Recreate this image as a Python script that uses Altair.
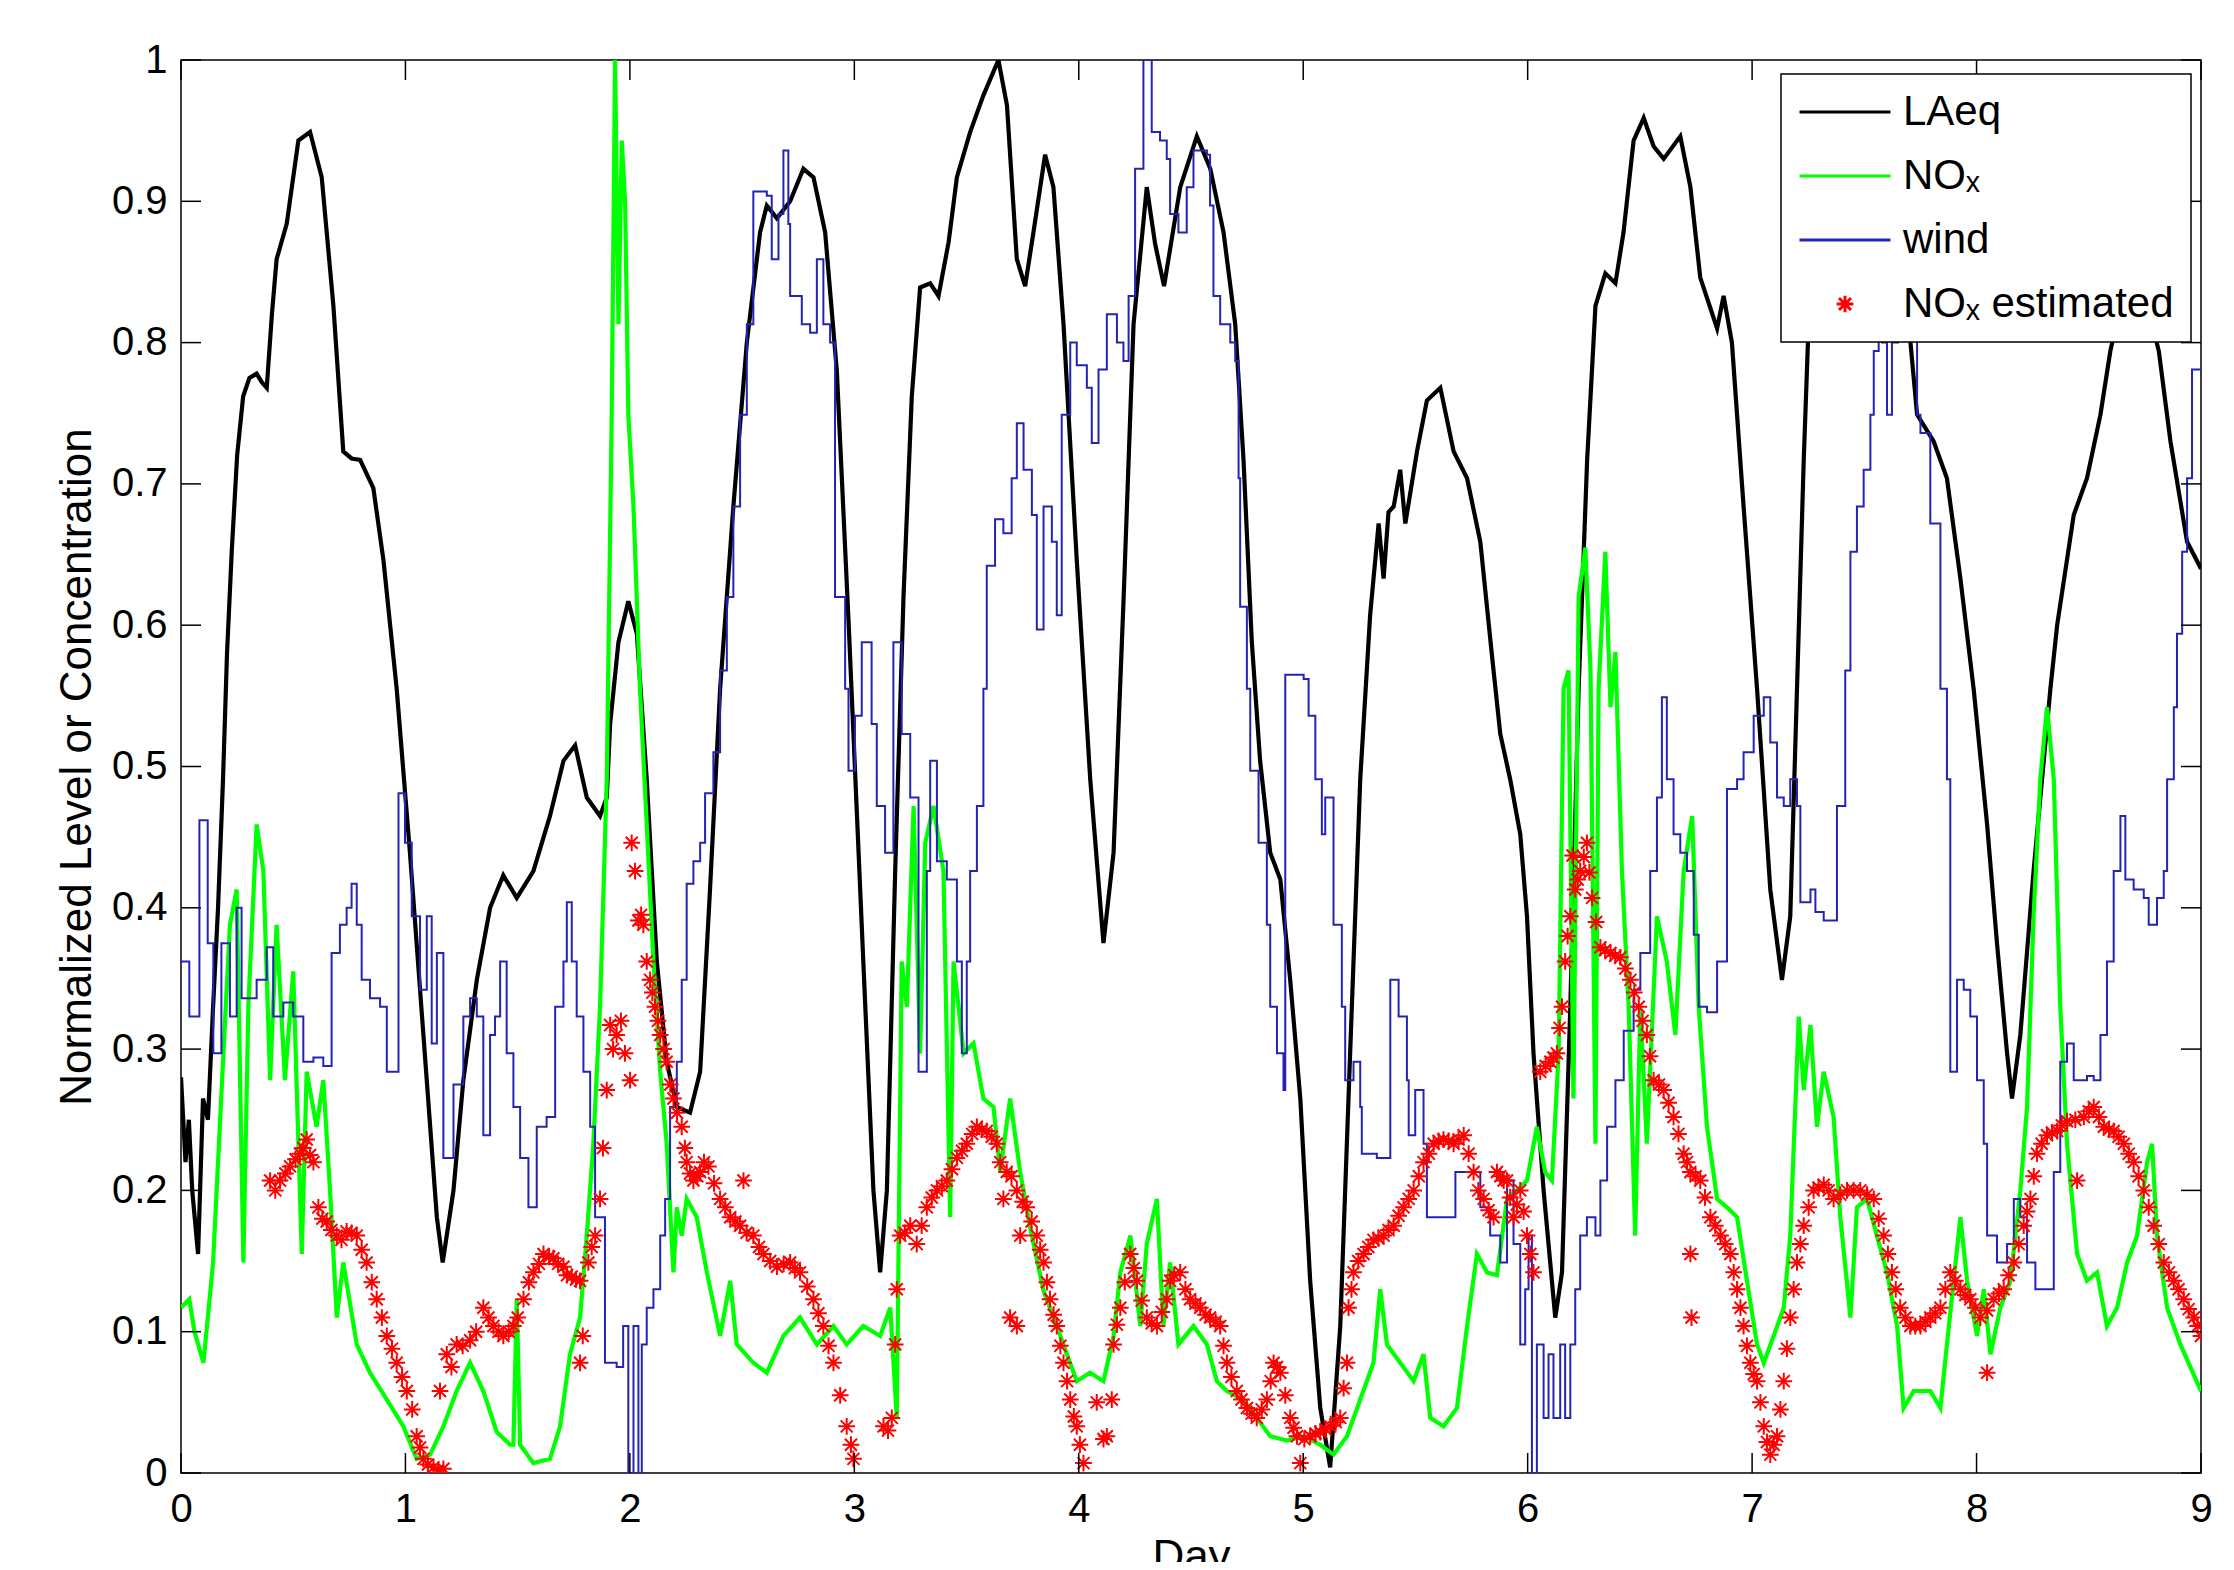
import altair as alt
import pandas as pd

# ---------------- data ----------------
laeq_day = [0.0, 0.02, 0.035, 0.05, 0.076, 0.098, 0.12, 0.143, 0.165, 0.187, 0.205, 0.226, 0.25, 0.277, 0.305,
            0.337, 0.36, 0.382, 0.405, 0.426, 0.471, 0.523, 0.575, 0.627, 0.679, 0.723, 0.76, 0.798, 0.857, 0.902,
            0.961, 1.02, 1.08, 1.14, 1.166, 1.214, 1.258, 1.318, 1.377, 1.436, 1.496, 1.57, 1.644, 1.704, 1.756,
            1.808, 1.867, 1.897, 1.912, 1.949, 1.993, 2.031, 2.075, 2.12, 2.164, 2.209, 2.268, 2.313, 2.357, 2.402,
            2.461, 2.521, 2.58, 2.61, 2.655, 2.714, 2.773, 2.818, 2.87, 2.922, 2.975, 3.04, 3.085, 3.115, 3.145,
            3.182, 3.219, 3.256, 3.293, 3.338, 3.375, 3.42, 3.457, 3.516, 3.575, 3.642, 3.68, 3.724, 3.761, 3.798,
            3.85, 3.887, 3.932, 3.991, 4.051, 4.11, 4.155, 4.2, 4.244, 4.303, 4.34, 4.38, 4.452, 4.526, 4.586,
            4.645, 4.697, 4.734, 4.771, 4.808, 4.853, 4.898, 4.942, 4.987, 5.031, 5.076, 5.12, 5.165, 5.209, 5.254,
            5.298, 5.336, 5.358, 5.38, 5.403, 5.432, 5.455, 5.507, 5.551, 5.611, 5.67, 5.73, 5.789, 5.84, 5.878,
            5.922, 5.967, 5.997, 6.026, 6.071, 6.123, 6.153, 6.19, 6.227, 6.265, 6.302, 6.346, 6.391, 6.427, 6.472,
            6.517, 6.561, 6.606, 6.68, 6.725, 6.769, 6.844, 6.873, 6.91, 6.962, 7.022, 7.081, 7.133, 7.17, 7.2,
            7.23, 7.259, 7.32, 7.42, 7.52, 7.62, 7.705, 7.735, 7.809, 7.868, 7.928, 7.987, 8.047, 8.091, 8.136,
            8.158, 8.195, 8.254, 8.329, 8.359, 8.433, 8.492, 8.552, 8.596, 8.66, 8.74, 8.812, 8.864, 8.938, 9.0]
laeq_val = [0.28, 0.22, 0.25, 0.2, 0.155, 0.265, 0.25, 0.33, 0.4, 0.49, 0.58, 0.652, 0.72, 0.762, 0.775,
            0.778, 0.772, 0.768, 0.82, 0.859, 0.884, 0.943, 0.949, 0.917, 0.826, 0.723, 0.718, 0.717, 0.697, 0.646,
            0.555, 0.439, 0.31, 0.181, 0.149, 0.2, 0.278, 0.349, 0.4, 0.423, 0.407, 0.426, 0.465, 0.504, 0.515,
            0.478, 0.465, 0.478, 0.53, 0.588, 0.617, 0.594, 0.491, 0.362, 0.291, 0.259, 0.255, 0.284, 0.413, 0.555,
            0.684, 0.8, 0.878, 0.897, 0.888, 0.9, 0.923, 0.917, 0.878, 0.78, 0.6, 0.362, 0.2, 0.142, 0.2,
            0.426, 0.62, 0.762, 0.839, 0.842, 0.833, 0.871, 0.917, 0.949, 0.975, 1.0, 0.968, 0.859, 0.84, 0.878,
            0.933, 0.91, 0.813, 0.646, 0.491, 0.375, 0.439, 0.62, 0.813, 0.91, 0.87, 0.84, 0.91, 0.946, 0.923,
            0.878, 0.813, 0.717, 0.588, 0.504, 0.439, 0.42, 0.349, 0.265, 0.136, 0.046, 0.004, 0.104, 0.297, 0.491,
            0.607, 0.672, 0.633, 0.68, 0.684, 0.71, 0.672, 0.723, 0.759, 0.768, 0.723, 0.704, 0.659, 0.58, 0.523,
            0.491, 0.452, 0.394, 0.297, 0.2, 0.11, 0.142, 0.33, 0.555, 0.717, 0.826, 0.849, 0.842, 0.878, 0.943,
            0.959, 0.939, 0.93, 0.946, 0.91, 0.846, 0.81, 0.833, 0.8, 0.684, 0.555, 0.413, 0.349, 0.394, 0.555,
            0.717, 0.846, 0.92, 0.95, 0.93, 0.87, 0.801, 0.749, 0.73, 0.704, 0.633, 0.555, 0.459, 0.375, 0.297,
            0.265, 0.31, 0.426, 0.555, 0.6, 0.678, 0.704, 0.749, 0.794, 0.84, 0.84, 0.794, 0.73, 0.659, 0.64]

nox_day = [0.0, 0.037, 0.06, 0.1, 0.143, 0.189, 0.218, 0.248, 0.278, 0.3, 0.337, 0.367, 0.397, 0.426, 0.463,
           0.5, 0.538, 0.56, 0.604, 0.634, 0.664, 0.694, 0.723, 0.783, 0.842, 0.917, 0.991, 1.05, 1.11, 1.169,
           1.228, 1.288, 1.347, 1.407, 1.466, 1.481, 1.496, 1.511, 1.57, 1.644, 1.689, 1.733, 1.778, 1.808, 1.837,
           1.867, 1.897, 1.919, 1.934, 1.949, 1.964, 1.979, 1.993, 2.016, 2.045, 2.075, 2.105, 2.135, 2.164, 2.194,
           2.209, 2.231, 2.253, 2.298, 2.343, 2.402, 2.447, 2.476, 2.55, 2.61, 2.684, 2.758, 2.833, 2.907, 2.966,
           3.04, 3.115, 3.16, 3.189, 3.211, 3.234, 3.264, 3.293, 3.316, 3.353, 3.397, 3.427, 3.442, 3.487, 3.531,
           3.575, 3.62, 3.65, 3.694, 3.739, 3.783, 3.843, 3.902, 3.947, 3.991, 4.05, 4.11, 4.155, 4.185, 4.23,
           4.274, 4.303, 4.348, 4.377, 4.407, 4.444, 4.511, 4.571, 4.615, 4.66, 4.734, 4.793, 4.853, 4.927, 5.002,
           5.076, 5.135, 5.195, 5.254, 5.313, 5.343, 5.373, 5.432, 5.492, 5.536, 5.566, 5.625, 5.685, 5.73, 5.774,
           5.819, 5.863, 5.908, 5.952, 5.997, 6.041, 6.078, 6.108, 6.138, 6.16, 6.182, 6.204, 6.227, 6.257, 6.28,
           6.302, 6.316, 6.346, 6.369, 6.391, 6.42, 6.45, 6.479, 6.502, 6.531, 6.576, 6.62, 6.658, 6.695, 6.733,
           6.762, 6.799, 6.844, 6.888, 6.933, 6.977, 7.022, 7.052, 7.096, 7.141, 7.17, 7.208, 7.23, 7.26, 7.289,
           7.319, 7.363, 7.393, 7.438, 7.467, 7.512, 7.556, 7.601, 7.646, 7.675, 7.72, 7.794, 7.839, 7.868, 7.928,
           7.958, 8.002, 8.032, 8.062, 8.106, 8.151, 8.195, 8.225, 8.254, 8.284, 8.314, 8.344, 8.373, 8.403, 8.448,
           8.492, 8.537, 8.581, 8.626, 8.671, 8.715, 8.76, 8.782, 8.804, 8.849, 8.908, 9.0]
nox_val = [0.117, 0.123, 0.1, 0.078, 0.149, 0.297, 0.388, 0.413, 0.149, 0.33, 0.459, 0.426, 0.278, 0.388, 0.278,
           0.355, 0.155, 0.284, 0.245, 0.278, 0.2, 0.11, 0.149, 0.091, 0.071, 0.052, 0.033, 0.01, 0.013, 0.033,
           0.058, 0.078, 0.058, 0.029, 0.02, 0.02, 0.123, 0.02, 0.007, 0.01, 0.033, 0.084, 0.11, 0.168, 0.233,
           0.33, 0.491, 0.749, 1.0, 0.813, 0.943, 0.898, 0.749, 0.684, 0.555, 0.459, 0.362, 0.284, 0.233, 0.142,
           0.188, 0.168, 0.194, 0.181, 0.142, 0.097, 0.136, 0.091, 0.078, 0.071, 0.097, 0.11, 0.091, 0.104, 0.091,
           0.104, 0.097, 0.117, 0.039, 0.362, 0.33, 0.472, 0.297, 0.446, 0.472, 0.426, 0.181, 0.362, 0.297, 0.304,
           0.265, 0.259, 0.213, 0.265, 0.213, 0.174, 0.129, 0.104, 0.084, 0.065, 0.071, 0.065, 0.097, 0.142, 0.168,
           0.104, 0.162, 0.194, 0.104, 0.149, 0.091, 0.104, 0.091, 0.065, 0.058, 0.052, 0.039, 0.026, 0.023, 0.026,
           0.02, 0.013, 0.026, 0.052, 0.078, 0.13, 0.091, 0.078, 0.065, 0.084, 0.039, 0.033, 0.046, 0.104, 0.155,
           0.142, 0.14, 0.194, 0.2, 0.207, 0.245, 0.213, 0.207, 0.297, 0.555, 0.568, 0.265, 0.62, 0.655, 0.568,
           0.233, 0.555, 0.652, 0.542, 0.581, 0.426, 0.33, 0.168, 0.33, 0.233, 0.394, 0.362, 0.31, 0.426, 0.465,
           0.33, 0.245, 0.194, 0.188, 0.181, 0.136, 0.091, 0.078, 0.097, 0.117, 0.168, 0.323, 0.271, 0.317, 0.245,
           0.284, 0.252, 0.181, 0.11, 0.188, 0.194, 0.168, 0.142, 0.104, 0.046, 0.058, 0.058, 0.046, 0.091, 0.181,
           0.136, 0.097, 0.13, 0.084, 0.117, 0.136, 0.2, 0.259, 0.394, 0.491, 0.542, 0.491, 0.33, 0.233, 0.155,
           0.136, 0.142, 0.104, 0.117, 0.149, 0.168, 0.22, 0.233, 0.168, 0.117, 0.091, 0.058]

wind_day = [0.0, 0.037, 0.082, 0.119, 0.144, 0.18, 0.218, 0.248, 0.27, 0.337, 0.382, 0.411, 0.456, 0.5, 0.545,
            0.59, 0.634, 0.671, 0.708, 0.738, 0.76, 0.783, 0.805, 0.842, 0.887, 0.917, 0.969, 0.998, 1.028, 1.065,
            1.095, 1.117, 1.14, 1.169, 1.214, 1.258, 1.288, 1.318, 1.347, 1.377, 1.399, 1.422, 1.451, 1.481, 1.511,
            1.548, 1.585, 1.629, 1.667, 1.704, 1.719, 1.741, 1.763, 1.793, 1.823, 1.845, 1.889, 1.941, 1.97, 1.993,
            2.016, 2.038, 2.053, 2.075, 2.105, 2.135, 2.157, 2.179, 2.209, 2.231, 2.253, 2.283, 2.313, 2.335, 2.372,
            2.402, 2.432, 2.461, 2.491, 2.521, 2.55, 2.61, 2.632, 2.662, 2.684, 2.706, 2.714, 2.766, 2.803, 2.833,
            2.862, 2.892, 2.914, 2.959, 2.974, 3.003, 3.033, 3.077, 3.1, 3.137, 3.174, 3.211, 3.249, 3.286, 3.323,
            3.338, 3.368, 3.412, 3.457, 3.479, 3.501, 3.516, 3.546, 3.575, 3.59, 3.627, 3.664, 3.701, 3.724, 3.754,
            3.791, 3.813, 3.843, 3.88, 3.902, 3.924, 3.962, 3.991, 4.036, 4.058, 4.088, 4.125, 4.17, 4.199, 4.222,
            4.251, 4.288, 4.325, 4.362, 4.392, 4.407, 4.444, 4.481, 4.511, 4.571, 4.585, 4.6, 4.63, 4.675, 4.697,
            4.712, 4.719, 4.749, 4.764, 4.801, 4.838, 4.853, 4.883, 4.912, 4.92, 5.002, 5.024, 5.054, 5.083, 5.098,
            5.135, 5.172, 5.187, 5.224, 5.254, 5.261, 5.328, 5.388, 5.425, 5.462, 5.47, 5.499, 5.536, 5.551, 5.678,
            5.789, 5.833, 5.878, 5.908, 5.937, 5.967, 5.989, 6.004, 6.019, 6.041, 6.071, 6.093, 6.115, 6.145, 6.167,
            6.19, 6.212, 6.234, 6.264, 6.302, 6.324, 6.354, 6.391, 6.428, 6.472, 6.502, 6.546, 6.576, 6.598, 6.62,
            6.65, 6.68, 6.71, 6.74, 6.762, 6.799, 6.844, 6.888, 6.933, 6.962, 7.007, 7.052, 7.081, 7.111, 7.141,
            7.17, 7.2, 7.215, 7.26, 7.282, 7.319, 7.378, 7.415, 7.438, 7.467, 7.497, 7.527, 7.542, 7.564, 7.579,
            7.601, 7.623, 7.65, 7.7, 7.735, 7.75, 7.794, 7.839, 7.868, 7.883, 7.913, 7.943, 7.972, 8.002, 8.032,
            8.047, 8.091, 8.136, 8.166, 8.195, 8.225, 8.262, 8.344, 8.373, 8.403, 8.433, 8.492, 8.522, 8.552, 8.581,
            8.611, 8.641, 8.663, 8.7, 8.745, 8.767, 8.804, 8.834, 8.849, 8.879, 8.893, 8.916, 8.938, 8.96, 9.0]
wind_val = [0.362, 0.323, 0.462, 0.375, 0.297, 0.375, 0.323, 0.4, 0.336, 0.349, 0.372, 0.323, 0.333, 0.323, 0.291,
            0.294, 0.288, 0.368, 0.388, 0.4, 0.417, 0.388, 0.349, 0.336, 0.33, 0.284, 0.481, 0.446, 0.394, 0.342,
            0.394, 0.304, 0.368, 0.223, 0.275, 0.323, 0.336, 0.323, 0.239, 0.31, 0.323, 0.362, 0.297, 0.259, 0.223,
            0.188, 0.245, 0.252, 0.33, 0.362, 0.404, 0.362, 0.323, 0.284, 0.245, 0.181, 0.078, 0.075, 0.104, 0.0,
            0.104, 0.0, 0.091, 0.117, 0.13, 0.168, 0.194, 0.259, 0.291, 0.349, 0.417, 0.433, 0.446, 0.481, 0.51,
            0.568, 0.62, 0.684, 0.749, 0.813, 0.907, 0.904, 0.859, 0.891, 0.936, 0.884, 0.833, 0.813, 0.807, 0.859,
            0.813, 0.8, 0.62, 0.555, 0.497, 0.536, 0.588, 0.53, 0.472, 0.439, 0.588, 0.523, 0.478, 0.284, 0.426,
            0.504, 0.433, 0.42, 0.362, 0.297, 0.362, 0.426, 0.472, 0.555, 0.642, 0.675, 0.665, 0.704, 0.743, 0.71,
            0.678, 0.597, 0.684, 0.659, 0.607, 0.749, 0.8, 0.784, 0.768, 0.729, 0.781, 0.82, 0.8, 0.787, 0.833,
            0.923, 1.0, 0.949, 0.943, 0.93, 0.891, 0.878, 0.91, 0.936, 0.933, 0.897, 0.833, 0.813, 0.8, 0.787,
            0.704, 0.613, 0.555, 0.497, 0.446, 0.388, 0.33, 0.297, 0.271, 0.565, 0.562, 0.536, 0.491, 0.452, 0.478,
            0.388, 0.33, 0.278, 0.291, 0.259, 0.226, 0.223, 0.349, 0.323, 0.278, 0.239, 0.271, 0.233, 0.181, 0.213,
            0.188, 0.168, 0.149, 0.207, 0.162, 0.091, 0.13, 0.168, 0.0, 0.091, 0.039, 0.084, 0.039, 0.091, 0.039,
            0.091, 0.13, 0.168, 0.181, 0.168, 0.207, 0.245, 0.278, 0.313, 0.342, 0.368, 0.426, 0.478, 0.549, 0.491,
            0.452, 0.439, 0.426, 0.381, 0.33, 0.326, 0.362, 0.484, 0.491, 0.51, 0.536, 0.549, 0.517, 0.478, 0.472,
            0.491, 0.472, 0.404, 0.413, 0.397, 0.391, 0.472, 0.568, 0.652, 0.684, 0.71, 0.749, 0.794, 0.845, 0.8,
            0.749, 0.8, 0.86, 0.82, 0.749, 0.736, 0.672, 0.555, 0.491, 0.284, 0.349, 0.342, 0.323, 0.278, 0.233,
            0.168, 0.149, 0.162, 0.194, 0.181, 0.149, 0.13, 0.213, 0.291, 0.304, 0.278, 0.281, 0.278, 0.31, 0.362,
            0.426, 0.465, 0.42, 0.413, 0.407, 0.388, 0.407, 0.426, 0.491, 0.542, 0.594, 0.652, 0.704, 0.781, 0.781]

est_day = [0.397, 0.42, 0.441, 0.465, 0.486, 0.51, 0.53, 0.545, 0.56, 0.575, 0.59, 0.612, 0.63, 0.649, 0.67,
           0.694, 0.715, 0.738, 0.76, 0.783, 0.805, 0.827, 0.85, 0.872, 0.895, 0.917, 0.94, 0.961, 0.985, 1.006,
           1.03, 1.05, 1.065, 1.08, 1.1, 1.125, 1.145, 1.154, 1.169, 1.184, 1.205, 1.228, 1.255, 1.288, 1.315,
           1.347, 1.37, 1.392, 1.415, 1.436, 1.46, 1.481, 1.5, 1.526, 1.55, 1.57, 1.595, 1.615, 1.64, 1.659,
           1.68, 1.704, 1.72, 1.741, 1.76, 1.778, 1.778, 1.79, 1.815, 1.83, 1.845, 1.867, 1.88, 1.897, 1.912,
           1.925, 1.941, 1.96, 1.978, 2.001, 2.008, 2.023, 2.038, 2.05, 2.06, 2.075, 2.09, 2.1, 2.112, 2.125,
           2.135, 2.15, 2.164, 2.18, 2.194, 2.21, 2.231, 2.245, 2.253, 2.268, 2.283, 2.3, 2.313, 2.33, 2.35,
           2.375, 2.402, 2.425, 2.447, 2.47, 2.491, 2.506, 2.52, 2.55, 2.575, 2.595, 2.625, 2.655, 2.685, 2.714,
           2.735, 2.758, 2.79, 2.818, 2.84, 2.862, 2.885, 2.907, 2.937, 2.966, 2.985, 2.996, 3.13, 3.15, 3.167,
           3.182, 3.189, 3.204, 3.225, 3.249, 3.278, 3.3, 3.323, 3.345, 3.368, 3.39, 3.412, 3.435, 3.457, 3.48,
           3.501, 3.525, 3.546, 3.568, 3.59, 3.612, 3.635, 3.65, 3.664, 3.679, 3.694, 3.7, 3.724, 3.724, 3.739,
           3.75, 3.768, 3.79, 3.813, 3.828, 3.843, 3.858, 3.872, 3.888, 3.902, 3.918, 3.932, 3.948, 3.962, 3.978,
           3.991, 4.005, 4.021, 4.08, 4.11, 4.125, 4.147, 4.155, 4.17, 4.185, 4.205, 4.229, 4.245, 4.259, 4.28,
           4.303, 4.325, 4.348, 4.37, 4.392, 4.407, 4.425, 4.452, 4.475, 4.496, 4.52, 4.541, 4.565, 4.585, 4.61,
           4.63, 4.645, 4.66, 4.68, 4.704, 4.725, 4.749, 4.77, 4.793, 4.815, 4.838, 4.855, 4.868, 4.883, 4.898,
           4.92, 4.942, 4.957, 4.972, 4.987, 5.005, 5.031, 5.055, 5.076, 5.1, 5.12, 5.145, 5.165, 5.18, 5.195,
           5.202, 5.215, 5.224, 5.245, 5.269, 5.29, 5.313, 5.335, 5.358, 5.38, 5.403, 5.425, 5.447, 5.47, 5.492,
           5.515, 5.536, 5.56, 5.581, 5.603, 5.625, 5.648, 5.67, 5.692, 5.715, 5.737, 5.759, 5.78, 5.804, 5.826,
           5.848, 5.863, 5.878, 5.893, 5.908, 5.922, 5.937, 5.952, 5.967, 5.982, 5.997, 6.012, 6.026, 6.056, 6.08,
           6.101, 6.115, 6.13, 6.142, 6.153, 6.167, 6.178, 6.19, 6.2, 6.212, 6.223, 6.234, 6.25, 6.264, 6.275,
           6.287, 6.305, 6.324, 6.345, 6.369, 6.39, 6.413, 6.435, 6.458, 6.475, 6.495, 6.512, 6.531, 6.545, 6.561,
           6.585, 6.606, 6.628, 6.65, 6.672, 6.695, 6.71, 6.725, 6.725, 6.73, 6.748, 6.769, 6.79, 6.814, 6.836,
           6.859, 6.88, 6.903, 6.918, 6.933, 6.948, 6.962, 6.977, 6.992, 7.007, 7.022, 7.037, 7.052, 7.066, 7.081,
           7.096, 7.111, 7.126, 7.141, 7.155, 7.17, 7.185, 7.2, 7.215, 7.23, 7.252, 7.274, 7.296, 7.319, 7.341,
           7.363, 7.393, 7.423, 7.452, 7.482, 7.512, 7.542, 7.564, 7.586, 7.605, 7.623, 7.64, 7.66, 7.683, 7.705,
           7.727, 7.75, 7.772, 7.794, 7.816, 7.839, 7.861, 7.883, 7.905, 7.928, 7.95, 7.972, 7.995, 8.017, 8.047,
           8.047, 8.076, 8.1, 8.121, 8.143, 8.166, 8.188, 8.21, 8.225, 8.24, 8.255, 8.269, 8.29, 8.314, 8.336,
           8.359, 8.38, 8.403, 8.44, 8.448, 8.478, 8.5, 8.522, 8.545, 8.567, 8.59, 8.611, 8.633, 8.656, 8.678,
           8.7, 8.722, 8.745, 8.767, 8.789, 8.812, 8.834, 8.857, 8.879, 8.9, 8.923, 8.945, 8.968, 8.985, 9.0]
est_val = [0.207, 0.2, 0.207, 0.212, 0.217, 0.222, 0.226, 0.23, 0.236, 0.225, 0.22, 0.188, 0.18, 0.178, 0.172,
           0.168, 0.165, 0.171, 0.17, 0.168, 0.158, 0.149, 0.135, 0.123, 0.11, 0.097, 0.088, 0.078, 0.068, 0.058,
           0.045, 0.026, 0.018, 0.01, 0.006, 0.004, 0.002, 0.058, 0.003, 0.084, 0.075, 0.091, 0.09, 0.094, 0.1,
           0.117, 0.11, 0.104, 0.1, 0.097, 0.1, 0.104, 0.11, 0.123, 0.135, 0.142, 0.148, 0.155, 0.153, 0.152,
           0.148, 0.146, 0.14, 0.139, 0.137, 0.136, 0.078, 0.097, 0.149, 0.16, 0.168, 0.194, 0.23, 0.271, 0.317,
           0.3, 0.31, 0.32, 0.297, 0.278, 0.446, 0.426, 0.391, 0.395, 0.388, 0.362, 0.349, 0.34, 0.33, 0.32,
           0.31, 0.3, 0.291, 0.275, 0.265, 0.255, 0.245, 0.23, 0.22, 0.212, 0.207, 0.21, 0.213, 0.22, 0.217,
           0.205, 0.194, 0.188, 0.181, 0.178, 0.175, 0.207, 0.17, 0.168, 0.16, 0.155, 0.15, 0.146, 0.148, 0.149,
           0.145, 0.142, 0.132, 0.123, 0.113, 0.104, 0.09, 0.078, 0.055, 0.033, 0.02, 0.01, 0.033, 0.03, 0.039,
           0.091, 0.13, 0.168, 0.17, 0.175, 0.162, 0.175, 0.188, 0.195, 0.2, 0.203, 0.207, 0.215, 0.223, 0.228,
           0.233, 0.24, 0.245, 0.243, 0.242, 0.238, 0.233, 0.22, 0.194, 0.213, 0.11, 0.21, 0.2, 0.104, 0.168,
           0.192, 0.188, 0.178, 0.168, 0.158, 0.149, 0.135, 0.123, 0.112, 0.104, 0.09, 0.078, 0.065, 0.052, 0.04,
           0.033, 0.02, 0.007, 0.05, 0.024, 0.026, 0.052, 0.091, 0.105, 0.117, 0.135, 0.155, 0.145, 0.136, 0.122,
           0.11, 0.106, 0.104, 0.114, 0.123, 0.136, 0.14, 0.142, 0.13, 0.123, 0.12, 0.117, 0.112, 0.11, 0.107,
           0.104, 0.09, 0.078, 0.068, 0.058, 0.052, 0.046, 0.042, 0.039, 0.045, 0.052, 0.065, 0.078, 0.075, 0.071,
           0.055, 0.039, 0.032, 0.026, 0.007, 0.024, 0.026, 0.028, 0.029, 0.031, 0.033, 0.036, 0.039, 0.06, 0.078,
           0.117, 0.13, 0.142, 0.15, 0.155, 0.16, 0.165, 0.166, 0.168, 0.172, 0.175, 0.182, 0.188, 0.194, 0.2,
           0.21, 0.22, 0.226, 0.233, 0.235, 0.236, 0.235, 0.233, 0.236, 0.239, 0.226, 0.213, 0.2, 0.194, 0.186,
           0.181, 0.213, 0.21, 0.207, 0.207, 0.195, 0.181, 0.19, 0.2, 0.185, 0.168, 0.155, 0.142, 0.284, 0.288,
           0.291, 0.294, 0.297, 0.315, 0.33, 0.362, 0.38, 0.394, 0.437, 0.413, 0.42, 0.426, 0.436, 0.446, 0.425,
           0.407, 0.39, 0.372, 0.37, 0.368, 0.366, 0.365, 0.357, 0.349, 0.34, 0.33, 0.32, 0.31, 0.295, 0.278,
           0.275, 0.271, 0.262, 0.252, 0.24, 0.226, 0.22, 0.213, 0.155, 0.11, 0.21, 0.207, 0.195, 0.181, 0.175,
           0.168, 0.162, 0.155, 0.142, 0.13, 0.117, 0.104, 0.09, 0.078, 0.07, 0.065, 0.05, 0.033, 0.022, 0.013,
           0.02, 0.026, 0.045, 0.065, 0.088, 0.11, 0.13, 0.149, 0.162, 0.175, 0.188, 0.2, 0.202, 0.204, 0.2,
           0.194, 0.197, 0.2, 0.2, 0.2, 0.197, 0.194, 0.18, 0.168, 0.155, 0.142, 0.13, 0.117, 0.11, 0.104,
           0.104, 0.104, 0.107, 0.11, 0.113, 0.117, 0.13, 0.142, 0.136, 0.13, 0.126, 0.123, 0.117, 0.11, 0.071,
           0.115, 0.123, 0.127, 0.13, 0.14, 0.149, 0.162, 0.175, 0.185, 0.194, 0.21, 0.226, 0.233, 0.239, 0.241,
           0.242, 0.246, 0.249, 0.25, 0.207, 0.252, 0.256, 0.259, 0.252, 0.245, 0.243, 0.242, 0.238, 0.233, 0.226,
           0.22, 0.21, 0.2, 0.188, 0.175, 0.162, 0.149, 0.142, 0.136, 0.13, 0.123, 0.116, 0.11, 0.104, 0.097]

x_ticks = [0, 1, 2, 3, 4, 5, 6, 7, 8, 9]
y_ticks = [0.0, 0.1, 0.2, 0.3, 0.4, 0.5, 0.6, 0.7, 0.8, 0.9, 1.0]

series_names = ["LAeq", "NO\u2093", "wind", "NO\u2093 estimated"]
series_colors = ["#000000", "#00ff00", "#2424b4", "#ff0000"]
LINE_SYM = "M-2.5,0L2.5,0"
STAR_SYM = "M-0.46,0L0.46,0M0,-0.46L0,0.46M-0.33,-0.33L0.33,0.33M-0.33,0.33L0.33,-0.33"
series_shapes = [LINE_SYM, LINE_SYM, LINE_SYM, STAR_SYM]

# ---------------- layout ----------------
W, H = 2020, 1413
TICK = 20
FONT = "Liberation Sans"

laeq_df = pd.DataFrame({"day": laeq_day, "value": laeq_val, "series": series_names[0]})
nox_df = pd.DataFrame({"day": nox_day, "value": nox_val, "series": series_names[1]})
wind_df = pd.DataFrame({"day": wind_day, "value": wind_val, "series": series_names[2]})
est_df = pd.DataFrame({"day": est_day, "value": est_val, "series": series_names[3]})
xt_df = pd.DataFrame({"day": x_ticks})
yt_df = pd.DataFrame({"value": y_ticks})

legend = alt.Legend(
    orient="none", legendX=1600, legendY=14,
    fillColor="white", strokeColor="black", padding=17,
    labelFont=FONT, labelFontSize=42, labelColor="black", labelLimit=600,
    symbolSize=1325, symbolStrokeWidth=3, symbolOffset=26, labelOffset=37,
    rowPadding=22,
)

x_enc = alt.X("day:Q", title="Day",
              scale=alt.Scale(domain=[0, 9], nice=False, zero=False),
              axis=alt.Axis(values=x_ticks, format="d", labelFlush=False, labelOverlap=False,
                            labelPadding=16, titlePadding=6))
y_enc = alt.Y("value:Q", title="Normalized Level or Concentration",
              scale=alt.Scale(domain=[0, 1], nice=False, zero=False),
              axis=alt.Axis(values=y_ticks, format=".1~f", labelFlush=False, labelOverlap=False,
                            labelPadding=14, titlePadding=12))
color_enc = alt.Color("series:N", title=None,
                      scale=alt.Scale(domain=series_names, range=series_colors), legend=legend)
shape_enc = alt.Shape("series:N", title=None,
                      scale=alt.Scale(domain=series_names, range=series_shapes), legend=legend)

laeq = alt.Chart(laeq_df).mark_line(strokeWidth=4.2, clip=True).encode(x=x_enc, y=y_enc, color=color_enc)
nox = alt.Chart(nox_df).mark_line(strokeWidth=4.2, clip=True).encode(x=x_enc, y=y_enc, color=color_enc)
wind = alt.Chart(wind_df).mark_line(strokeWidth=2, interpolate="step-after", clip=True).encode(
    x=x_enc, y=y_enc, color=color_enc)
est = alt.Chart(est_df).mark_point(filled=False, size=1325, strokeWidth=2, opacity=1, clip=True).encode(
    x=x_enc, y=y_enc, color=color_enc, shape=shape_enc)

tick_style = dict(color="black", strokeWidth=1.5)
xt_bottom = alt.Chart(xt_df).mark_rule(**tick_style).encode(x=x_enc, y=alt.value(H), y2=alt.value(H - TICK))
xt_top = alt.Chart(xt_df).mark_rule(**tick_style).encode(x=x_enc, y=alt.value(0), y2=alt.value(TICK))
yt_left = alt.Chart(yt_df).mark_rule(**tick_style).encode(y=y_enc, x=alt.value(0), x2=alt.value(TICK))
yt_right = alt.Chart(yt_df).mark_rule(**tick_style).encode(y=y_enc, x=alt.value(W), x2=alt.value(W - TICK))

chart = alt.layer(laeq, nox, wind, est, xt_bottom, xt_top, yt_left, yt_right).properties(
    width=W, height=H,
    autosize=alt.AutoSizeParams(type="none"),
    padding={"left": 173, "top": 52, "right": 25, "bottom": 89},
    background="white",
).configure_view(
    stroke="black", strokeWidth=1.5
).configure_legend(
    strokeWidth=1.5, cornerRadius=0
).configure_axis(
    domain=False, ticks=False, tickSize=0, grid=False,
    labelFont=FONT, labelFontSize=40, labelColor="black",
    titleFont=FONT, titleFontSize=44, titleFontWeight="normal", titleColor="black",
)

chart.save("out.html", embed_options={"renderer": "svg", "actions": False})
